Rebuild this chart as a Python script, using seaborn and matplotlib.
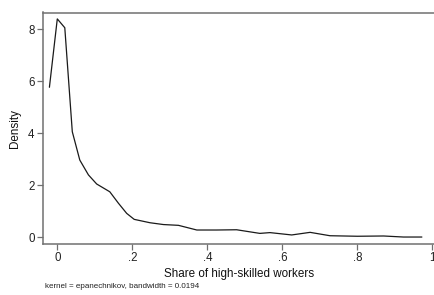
import matplotlib
matplotlib.use('Agg')
import matplotlib.pyplot as plt
import seaborn as sns

# kernel density estimate
share = [-0.021, 0.0, 0.02, 0.04, 0.06, 0.083, 0.105, 0.14, 0.163, 0.185,
         0.205, 0.247, 0.283, 0.323, 0.372, 0.425, 0.478, 0.54, 0.567,
         0.625, 0.674, 0.727, 0.80, 0.87, 0.923, 0.972]
density = [5.77, 8.40, 8.06, 4.06, 2.97, 2.40, 2.05, 1.75, 1.31, 0.92,
           0.69, 0.56, 0.49, 0.46, 0.28, 0.28, 0.29, 0.15, 0.18,
           0.09, 0.19, 0.06, 0.04, 0.05, 0.01, 0.01]

x_ticks = [0, 0.2, 0.4, 0.6, 0.8, 1.0]
x_ticklabels = ["0", ".2", ".4", ".6", ".8", "1"]
y_ticks = [0, 2, 4, 6, 8]

sns.set_style("ticks")
plt.rcParams['font.family'] = ['Liberation Sans', 'DejaVu Sans']

fig = plt.figure(figsize=(4.35, 2.95), dpi=100)
ax = fig.add_axes([43 / 435, 1 - 244 / 295, 392 / 435, 231.5 / 295])

sns.lineplot(x=share, y=density, sort=False, estimator=None, color="#1a1a1a",
             linewidth=0.9, ax=ax)

ax.set_xlim(-0.0381, 1.007)
ax.set_ylim(-0.258, 8.646)
ax.set_xticks(x_ticks)
ax.set_xticklabels(x_ticklabels)
ax.set_yticks(y_ticks)

spine_col = "#707070"
for side in ["left", "bottom", "top"]:
    ax.spines[side].set_color(spine_col)
    ax.spines[side].set_linewidth(1.1)
ax.spines["right"].set_visible(False)
ax.tick_params(colors=spine_col, labelcolor="#222222", length=4, width=0.9,
               labelsize=8.3, pad=2)

ax.set_xlabel("Share of high-skilled workers", fontsize=8.4, color="#111111", labelpad=3)
ax.set_ylabel("Density", fontsize=8.4, color="#111111", labelpad=5)

fig.text(45 / 435, 1 - 288 / 295, "kernel = epanechnikov, bandwidth = 0.0194",
         fontsize=5.8, color="#222222", va="baseline", ha="left")

fig.savefig("out.png", dpi=100, facecolor="white")
